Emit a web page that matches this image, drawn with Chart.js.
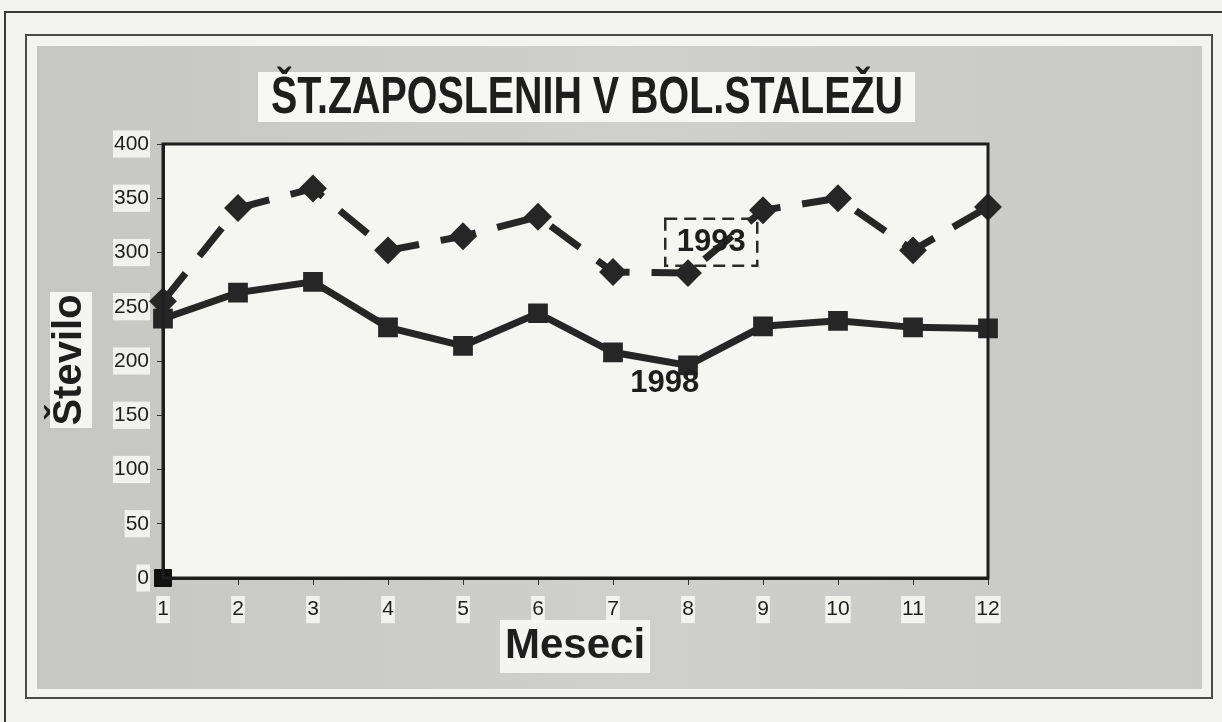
<!DOCTYPE html>
<html>
<head>
<meta charset="utf-8">
<title>ŠT.ZAPOSLENIH V BOL.STALEŽU</title>
<script src="https://cdn.jsdelivr.net/npm/chart.js@4.4.0/dist/chart.umd.min.js"></script>
<style>
  html, body { margin: 0; padding: 0; background: #f3f3f1; }
  #chart { display: block; }
</style>
</head>
<body>
<canvas id="chart" width="1222" height="722"></canvas>
<script>
// podatki
const meseci = ['1', '2', '3', '4', '5', '6', '7', '8', '9', '10', '11', '12'];
const leto1993 = [255, 341, 359, 302, 315, 333, 282, 281, 339, 350, 302, 342];
const leto1998 = [239, 263, 273, 231, 214, 244, 208, 196, 232, 237, 231, 230];
const izhodisce = [0];
const yTicks = [0, 50, 100, 150, 200, 250, 300, 350, 400];

const naslov = 'ŠT.ZAPOSLENIH V BOL.STALEŽU';
const osY = 'Število';
const osX = 'Meseci';

const ink = '#262626';

// narise besedilo, stisnjeno na doloceno sirino
function fitText(c, txt, cx, cy, font, width) {
  c.save();
  c.font = font;
  const w = c.measureText(txt).width;
  const sx = width ? width / w : 1;
  c.translate(cx, cy);
  c.scale(sx, 1);
  c.textAlign = 'center';
  c.textBaseline = 'middle';
  c.fillStyle = '#1e1e1e';
  c.fillText(txt, 0, 0);
  c.restore();
}

const ozadje = {
  id: 'ozadje',
  beforeDraw(chart) {
    const c = chart.ctx;
    const a = chart.chartArea;
    c.save();
    c.fillStyle = '#f3f3f1';
    c.fillRect(0, 0, chart.width, chart.height);

    // zunanji okvir
    c.strokeStyle = '#3a3a3a';
    c.lineWidth = 2;
    c.beginPath();
    c.moveTo(5, 722); c.lineTo(5, 12); c.lineTo(1222, 12);
    c.stroke();

    // notranji okvir
    c.strokeStyle = '#4a4a4a';
    c.lineWidth = 2;
    c.strokeRect(26, 35, 1186, 663);

    // siva plosca
    const g = c.createLinearGradient(37, 0, 1202, 0);
    g.addColorStop(0, '#c6c6c4');
    g.addColorStop(0.5, '#cfcfcd');
    g.addColorStop(1, '#c9c9c7');
    c.fillStyle = g;
    c.fillRect(37, 46, 1165, 643);

    // polje grafa
    c.fillStyle = '#f5f5f2';
    c.fillRect(a.left, a.top, a.right - a.left, a.bottom - a.top);

    // naslov
    c.fillStyle = '#f7f7f5';
    c.fillRect(258, 72, 657, 50);
    fitText(c, naslov, 587, 99, 'bold 52px "Liberation Sans", Arial, sans-serif', 632);

    // naslov osi Y
    c.fillStyle = '#f4f4f2';
    c.fillRect(50, 292, 42, 136);
    c.save();
    c.translate(70, 360);
    c.rotate(-Math.PI / 2);
    fitText(c, osY, 0, 0, 'bold 40px "Liberation Sans", Arial, sans-serif');
    c.restore();

    // naslov osi X
    c.fillStyle = '#f4f4f2';
    c.fillRect(500, 620, 150, 53);
    fitText(c, osX, 575, 646, 'bold 42px "Liberation Sans", Arial, sans-serif');
    c.restore();
  },
  afterDatasetsDraw(chart) {
    const c = chart.ctx;
    const a = chart.chartArea;
    const x = chart.scales.x;
    const y = chart.scales.y;
    c.save();
    // okvir polja
    c.strokeStyle = '#1e1e1e';
    c.lineWidth = 3;
    c.strokeRect(a.left, a.top, a.right - a.left, a.bottom - a.top);

    // oznaka 1993
    const x93 = x.getPixelForValue(7.31);
    const y93 = y.getPixelForValue(309);
    c.setLineDash([12, 7]);
    c.lineWidth = 2.5;
    c.strokeStyle = '#2a2a2a';
    c.strokeRect(x93 - 46, y93 - 24, 92, 47);
    c.setLineDash([]);
    fitText(c, '1993', x93, y93, 'bold 31px "Liberation Sans", Arial, sans-serif');

    // oznaka 1998
    fitText(c, '1998', x.getPixelForValue(6.69), y.getPixelForValue(179), 'bold 31px "Liberation Sans", Arial, sans-serif');
    c.restore();
  }
};

const tickFont = { family: '"Liberation Sans", Arial, sans-serif', size: 21 };

new Chart(document.getElementById('chart'), {
  type: 'line',
  data: {
    labels: meseci,
    datasets: [
      {
        label: '1993',
        data: leto1993,
        borderColor: ink,
        borderWidth: 7,
        borderDash: [36, 22],
        pointStyle: 'rectRot',
        pointRadius: 9,
        pointBackgroundColor: ink,
        pointBorderColor: ink,
        tension: 0,
        clip: false
      },
      {
        label: '1998',
        data: leto1998,
        borderColor: ink,
        borderWidth: 7,
        pointStyle: 'rect',
        pointRadius: 9,
        pointBackgroundColor: ink,
        pointBorderColor: ink,
        tension: 0,
        clip: false
      },
      {
        label: 'izhodisce',
        data: izhodisce,
        showLine: false,
        pointStyle: 'rect',
        pointRadius: 12,
        pointBackgroundColor: '#111',
        pointBorderColor: '#111',
        clip: false
      }
    ]
  },
  options: {
    responsive: false,
    animation: false,
    layout: { padding: { left: 103, right: 234, top: 144, bottom: 84 } },
    plugins: {
      legend: { display: false },
      title: { display: false },
      tooltip: { enabled: false }
    },
    scales: {
      x: {
        offset: false,
        afterFit: s => { s.height = 60; },
        grid: { display: true, drawOnChartArea: false, tickLength: 7, color: '#333', lineWidth: 1 },
        border: { display: true, color: '#1e1e1e', width: 3 },
        ticks: {
          font: tickFont,
          color: '#1e1e1e',
          padding: 12,
          maxRotation: 0,
          showLabelBackdrop: true,
          backdropColor: 'rgba(248,248,246,0.85)',
          backdropPadding: 1
        }
      },
      y: {
        min: 0,
        max: 400,
        afterFit: s => { s.width = 60; },
        afterBuildTicks: s => { s.ticks = yTicks.map(v => ({ value: v })); },
        grid: { display: true, drawOnChartArea: false, tickLength: 6, color: '#333', lineWidth: 1 },
        border: { display: true, color: '#1e1e1e', width: 3 },
        ticks: {
          font: tickFont,
          color: '#1e1e1e',
          padding: 8,
          showLabelBackdrop: true,
          backdropColor: 'rgba(248,248,246,0.85)',
          backdropPadding: 1
        }
      }
    }
  },
  plugins: [ozadje]
});
</script>
</body>
</html>
